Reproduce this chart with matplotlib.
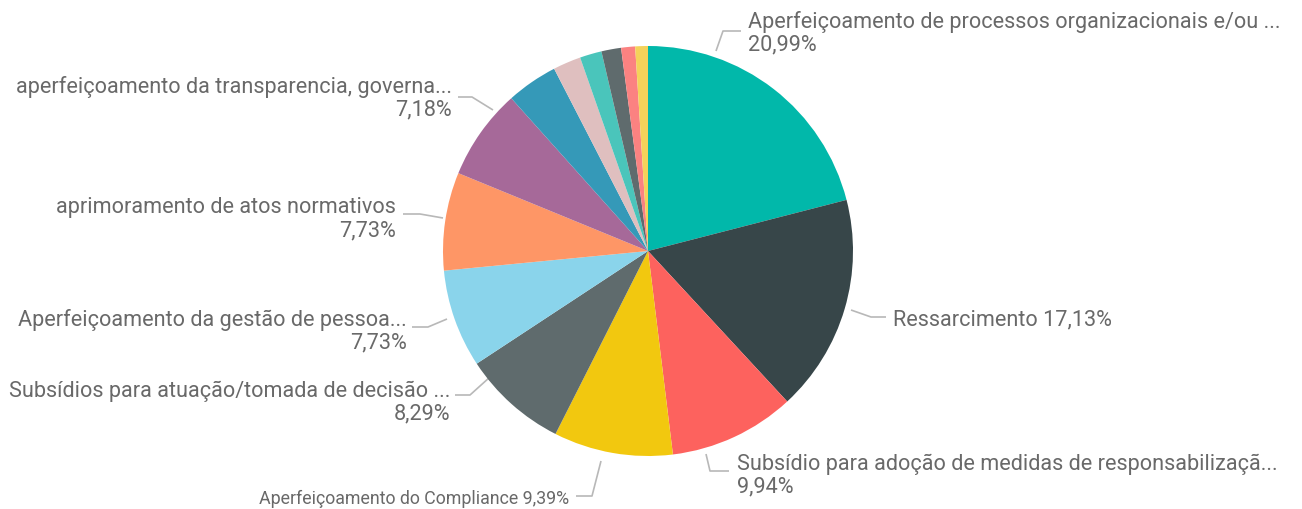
import matplotlib
matplotlib.use("Agg")
import matplotlib.pyplot as plt

categories = [
    "Aperfeiçoamento de processos organizacionais e/ou ...",
    "Ressarcimento",
    "Subsídio para adoção de medidas de responsabilizaçã...",
    "Aperfeiçoamento do Compliance",
    "Subsídios para atuação/tomada de decisão ...",
    "Aperfeiçoamento da gestão de pessoa...",
    "aprimoramento de atos normativos",
    "aperfeiçoamento da transparencia, governa...",
    "outros 1", "outros 2", "outros 3", "outros 4", "outros 5", "outros 6",
]
values = [20.99, 17.13, 9.94, 9.39, 8.29, 7.73, 7.73, 7.18,
          4.05, 2.20, 1.72, 1.55, 1.10, 1.00]
pct_labels = ["20,99%", "17,13%", "9,94%", "9,39%", "8,29%", "7,73%", "7,73%", "7,18%"]
colors = ["#01B8AA", "#374649", "#FD625E", "#F2C80F", "#5F6B6D", "#8AD4EB",
          "#FE9666", "#A66999", "#3599B8", "#DFBFBF", "#4AC5BB", "#5F6B6D",
          "#FB8281", "#F4D25A"]

W, H = 1302, 510
fig = plt.figure(figsize=(W / 100, H / 100), dpi=100, facecolor="white")
ax = fig.add_axes([0, 0, 1, 1])
ax.set_xlim(0, W)
ax.set_ylim(H, 0)
ax.axis("off")

cx, cy, r = 648, 252, 205
# pie drawn in an un-flipped frame, so use a separate overlay axes
ax2 = fig.add_axes([0, 0, 1, 1])
ax2.pie(values, colors=colors, startangle=90, counterclock=False,
        center=(cx, H - cy), radius=r, frame=True,
        wedgeprops=dict(linewidth=0))
ax2.set_xlim(0, W)
ax2.set_ylim(0, H)
ax2.axis("off")

txt_color = "#696969"
line_color = "#b8b8b8"
font = "Roboto"
fs = 15.6

# (text x, first line y, align, two lines?, leader points, fontsize)
layout = [
    (748, 22, "left", True, [(716, 52), (723, 32), (741, 32)], fs),
    (893, 320, "left", False, [(851, 311), (871, 318), (886, 318)], fs),
    (737, 464, "left", True, [(706, 455), (710, 472), (729, 472)], fs),
    (569, 499, "right", False, [(601, 462), (592, 497), (576, 497)], 12.8),
    (450, 391, "right", True, [(490, 378), (470, 396), (455, 396)], fs),
    (407, 320, "right", True, [(447, 320), (428, 328), (412, 328)], fs),
    (396, 208, "right", True, [(443, 219), (420, 215), (403, 215)], fs),
    (452, 87, "right", True, [(493, 111), (472, 98), (458, 98)], fs),
]

for i, (tx, ty, ha, two, pts, size) in enumerate(layout):
    xs = [p[0] for p in pts]
    ys = [p[1] for p in pts]
    ax.plot(xs, ys, color=line_color, lw=1.2, solid_capstyle="butt")
    if two:
        ax.text(tx, ty, categories[i], ha=ha, va="center", fontsize=size,
                color=txt_color, family=font)
        ax.text(tx, ty + 23, pct_labels[i], ha=ha, va="center", fontsize=size,
                color=txt_color, family=font)
    else:
        ax.text(tx, ty, categories[i] + " " + pct_labels[i], ha=ha, va="center",
                fontsize=size, color=txt_color, family=font)

fig.savefig("out.png", dpi=100, facecolor="white")
